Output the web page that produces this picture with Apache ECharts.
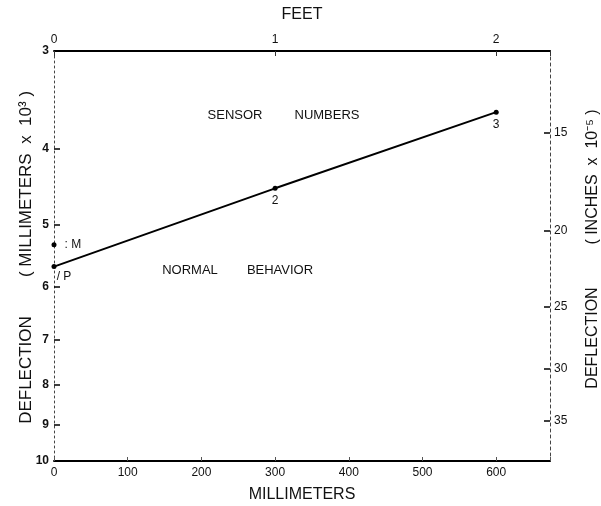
<!DOCTYPE html>
<html><head><meta charset="utf-8">
<script src="https://cdn.jsdelivr.net/npm/echarts@6/dist/echarts.min.js"></script>
<style>html,body{margin:0;padding:0;background:#fff}#c{width:601px;height:506px}</style>
</head><body><div id="c"></div>
<script>
// Data
const distanceMM = [0, 300, 600];              // sensor positions, millimeters
const deflection = [5.65, 4.49, 3.59];         // deflection, mm x 10^3 (log scale)
const sensorLabels = ['P', '2', '3'];
const extraPointX = [0];
const extraPointY = [5.30];
const extraLabels = ['M'];
const xTicksMM = [0, 100, 200, 300, 400, 500, 600];
const feetTicks = [0, 1, 2];
const leftTicks = [3, 4, 5, 6, 7, 8, 9, 10];
const rightTicks = [15, 20, 25, 30, 35];
const xMaxMM = 673;
const mmPerFoot = 300;
const mmToInchFactor = 3.937;

const font = 'Liberation Sans';
const chart = echarts.init(document.getElementById('c'));

const lineData = distanceMM.map((x, i) => ({
  value: [x, deflection[i]],
  label: i === 0
    ? {show: true, formatter: '/ ' + sensorLabels[i], position: 'bottom', offset: [10, -3]}
    : {show: true, formatter: sensorLabels[i], position: 'bottom', distance: 4}
}));

const vText = (text, x, y, size) => ({type: 'text', x, y, rotation: Math.PI / 2,
  style: {text, fontFamily: font, fontSize: size, fill: '#111', align: 'center', verticalAlign: 'middle'}});
const hText = (text, x, y) => ({type: 'text', x, y,
  style: {text, fontFamily: font, fontSize: 13, fill: '#111', align: 'center', verticalAlign: 'middle'}});

chart.setOption({
  animation: false,
  grid: {left: 54, right: 51, top: 51, bottom: 45, outerBoundsMode: 'none', containLabel: false},
  xAxis: [
    {type: 'value', position: 'bottom', min: 0, max: xMaxMM, interval: 100,
     name: 'MILLIMETERS', nameLocation: 'middle', nameGap: 26,
     nameTextStyle: {fontFamily: font, fontSize: 16, color: '#111'},
     axisLine: {show: true, onZero: false, lineStyle: {color: '#000', width: 2}},
     axisTick: {show: true, inside: true, length: 4, lineStyle: {color: '#555'}},
     axisLabel: {fontFamily: font, fontSize: 12, color: '#111', margin: 6,
       customValues: xTicksMM},
     splitLine: {show: false}},
    {type: 'value', position: 'top', min: 0, max: xMaxMM / mmPerFoot, interval: 1,
     name: 'FEET', nameLocation: 'middle', nameGap: 28,
     nameTextStyle: {fontFamily: font, fontSize: 16, color: '#111'},
     axisLine: {show: true, onZero: false, lineStyle: {color: '#000', width: 2}},
     axisTick: {show: true, inside: true, length: 5, lineStyle: {color: '#333'}},
     axisLabel: {fontFamily: font, fontSize: 12, color: '#111', margin: 5,
       customValues: feetTicks},
     splitLine: {show: false}}
  ],
  yAxis: [
    {type: 'log', logBase: 10, position: 'left', min: 3, max: 10, inverse: true,
     axisLine: {show: true, onZero: false, lineStyle: {color: '#444', width: 1, type: [2, 3]}},
     axisTick: {show: true, inside: true, length: 6, customValues: leftTicks, lineStyle: {color: '#000', width: 1.5}},
     axisLabel: {fontFamily: font, fontSize: 12, fontWeight: 'bold', color: '#111', margin: 5, customValues: leftTicks},
     splitLine: {show: false}, minorTick: {show: false}},
    {type: 'log', logBase: 10, position: 'right', min: 3 * mmToInchFactor, max: 10 * mmToInchFactor, inverse: true,
     axisLine: {show: true, onZero: false, lineStyle: {color: '#444', width: 1, type: [3, 3]}},
     axisTick: {show: true, inside: true, length: 6, customValues: rightTicks, lineStyle: {color: '#000', width: 1.5}},
     axisLabel: {fontFamily: font, fontSize: 12, color: '#111', margin: 4, customValues: rightTicks},
     splitLine: {show: false}, minorTick: {show: false}}
  ],
  graphic: [
    vText('DEFLECTION', 26, 370, 17),
    vText('( MILLIMETERS  x  10³ )', 26, 184, 17),
    vText('DEFLECTION', 593, 338, 16),
    vText('( INCHES  x  10⁻⁵ )', 593, 177, 16),
    hText('SENSOR', 235, 115),
    hText('NUMBERS', 327, 115),
    hText('NORMAL', 190, 270),
    hText('BEHAVIOR', 280, 270)
  ],
  series: [
    {type: 'line', xAxisIndex: 0, yAxisIndex: 0, data: lineData,
     symbol: 'circle', symbolSize: 5,
     lineStyle: {color: '#000', width: 2}, itemStyle: {color: '#000'},
     label: {fontFamily: font, fontSize: 12, color: '#111'}},
    {type: 'scatter', xAxisIndex: 0, yAxisIndex: 0,
     data: extraPointX.map((x, i) => [x, extraPointY[i]]),
     symbol: 'circle', symbolSize: 5, itemStyle: {color: '#000', opacity: 1},
     label: {show: true, position: 'right', distance: 8, fontFamily: font, fontSize: 12, color: '#111',
       formatter: p => ': ' + extraLabels[p.dataIndex]}}
  ]
});
</script></body></html>
